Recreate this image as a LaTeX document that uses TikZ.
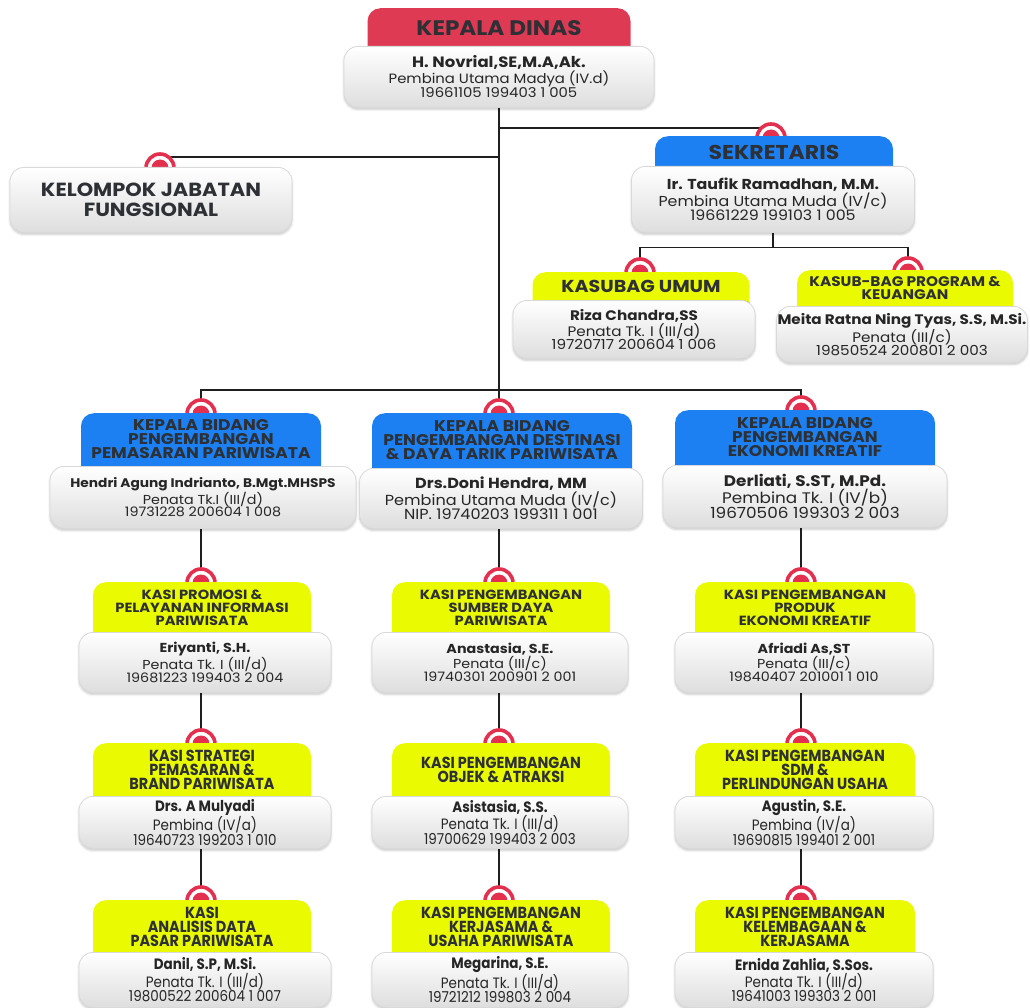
\documentclass[tikz,border=0pt]{standalone}
\usepackage{fontspec}
\setmainfont{Poppins}[FakeStretch=1.1]
\newfontfamily\condf[FakeStretch=0.9]{Poppins}
\usetikzlibrary{calc,shadows.blur}
\pgfdeclarelayer{bg}
\pgfsetlayers{bg,main}
\definecolor{hred}{RGB}{222,58,84}
\definecolor{hblue}{RGB}{28,128,242}
\definecolor{hyel}{RGB}{234,250,0}
\definecolor{htext}{RGB}{45,48,52}
\definecolor{markc}{RGB}{226,48,78}
\definecolor{btext}{RGB}{38,38,38}
\tikzset{
 conn/.style={draw=black!88, line width=1.3pt},
 ring/.style={circle, draw=markc, line width=3.6pt, fill=white, minimum size=28pt, inner sep=0pt},
 hdr/.style={rounded corners=13pt, anchor=north, inner sep=0pt},
 htxt/.style={align=center, text=htext, inner sep=0pt, font=\bfseries\fontsize{13.5}{13}\selectfont},
 bigt/.style={font=\bfseries\fontsize{21}{21}\selectfont},
 bidt/.style={font=\bfseries\fontsize{15.5}{14}\selectfont},
 kasit/.style={font=\bfseries\fontsize{13.3}{13}\selectfont},
 condt/.style={font=\condf\bfseries\fontsize{16}{14}\selectfont},
 body/.style={anchor=north, rounded corners=14pt, top color=white, bottom color=black!13, draw=black!15, line width=0.8pt, align=center, text=btext, inner sep=0pt, font=\fontsize{13}{12.5}\selectfont,
   blur shadow={shadow blur steps=5, shadow xshift=0pt, shadow yshift=-2pt, shadow opacity=22}},
 condb/.style={font=\condf\fontsize{15}{14.5}\selectfont},
}
\newcommand\mk[3]{\node[ring] (#1) at (#2,#3) {}; \fill[markc] (#1.center) circle (8.5pt);}
\newcommand\hd[8]{%
 \node[hdr,fill=#6,minimum width=#4pt,minimum height={#5pt+16pt}] (#1h) at (#2,#3) {};
 \node[htxt,#7] (#1t) at (#2,#3+#5/2) {#8};}
\newcommand\bd[7]{\node[body,#6,minimum width=#4pt,minimum height=#5pt] (#1) at (#2,#3) {#7};}
\newcommand\bt[3]{\textbf{#1}\\#2\\#3}
\begin{document}
\begin{tikzpicture}[x=1pt,y=-1pt]
\useasboundingbox (0,0) rectangle (1030,1008);
% Kepala Dinas
\hd{kd}{499}{8}{263}{40}{hred}{bigt}{KEPALA DINAS}
\bd{kd}{499}{46}{310}{61}{font=\fontsize{13.5}{12.5}\selectfont}{\textbf{\fontsize{15}{12.5}\selectfont H. Novrial,SE,M.A,Ak.}\\Pembina Utama Madya (IV.d)\\19661105 199403 1 005}
% Kelompok
\mk{kjm}{160}{168}
\bd{kj}{151}{167}{282}{65}{text=htext, font=\bfseries\fontsize{19}{20}\selectfont}{KELOMPOK JABATAN\\FUNGSIONAL}
% Sekretaris
\mk{sekm}{771}{138}
\hd{sek}{774}{136}{238}{32}{hblue}{font=\bfseries\fontsize{20}{20}\selectfont}{SEKRETARIS}
\bd{sek}{773}{166}{283}{66}{font=\fontsize{14.4}{14}\selectfont}{\bt{Ir. Taufik Ramadhan, M.M.}{Pembina Utama Muda (IV/c)}{19661229 199103 1 005}}
% Kasubag
\mk{kum}{640}{273}
\hd{ku}{641}{272}{217}{28}{hyel}{font=\bfseries\fontsize{17.3}{17}\selectfont}{KASUBAG UMUM}
\bd{ku}{634}{300}{242}{58}{font=\fontsize{13.8}{13.2}\selectfont}{\bt{Riza Chandra,SS}{Penata Tk. I (III/d)}{19720717 200604 1 006}}
\mk{kpm}{908}{272}
\hd{kp}{905}{270}{216}{37}{hyel}{font=\bfseries\fontsize{13.9}{13}\selectfont}{KASUB-BAG PROGRAM \&\\KEUANGAN}
\bd{kp}{902}{306}{251}{56}{font=\fontsize{13.8}{13}\selectfont}{\bt{Meita Ratna Ning Tyas, S.S, M.Si.}{Penata (III/c)}{19850524 200801 2 003}}
% Bidang
\mk{b1m}{201}{414}
\hd{b1}{201}{413}{240}{53}{hblue}{bidt}{KEPALA BIDANG\\PENGEMBANGAN\\PEMASARAN PARIWISATA}
\bd{b1}{203}{466}{306}{62}{}{\textbf{\fontsize{12.5}{12.5}\selectfont Hendri Agung Indrianto, B.Mgt.MHSPS}\\Penata Tk.I (III/d)\\19731228 200604 1 008}
\mk{b2m}{499}{414}
\hd{b2}{502}{413}{260}{55}{hblue}{bidt}{KEPALA BIDANG\\PENGEMBANGAN DESTINASI\\\& DAYA TARIK PARIWISATA}
\bd{b2}{501}{468}{283}{60}{font=\fontsize{14.6}{14}\selectfont}{\bt{Drs.Doni Hendra, MM}{Pembina Utama Muda (IV/c)}{NIP. 19740203 199311 1 001}}
\mk{b3m}{801}{411}
\hd{b3}{805}{410}{260}{55}{hblue}{bidt}{KEPALA BIDANG\\PENGEMBANGAN\\EKONOMI KREATIF}
\bd{b3}{805}{465}{284}{62}{font=\fontsize{15.3}{14.5}\selectfont}{\bt{Derliati, S.ST, M.Pd.}{Pembina Tk. I (IV/b)}{19670506 199303 2 003}}
% Kasi row 1
\mk{k11m}{201}{583}
\hd{k11}{202}{582}{218}{51}{hyel}{kasit}{KASI PROMOSI \&\\PELAYANAN INFORMASI\\PARIWISATA}
\bd{k11}{205}{632}{252}{60}{}{\bt{Eriyanti, S.H.}{Penata Tk. I (III/d)}{19681223 199403 2 004}}
\mk{k12m}{499}{583}
\hd{k12}{501}{582}{218}{51}{hyel}{kasit}{KASI PENGEMBANGAN\\SUMBER DAYA\\PARIWISATA}
\bd{k12}{500}{632}{256}{60}{}{\bt{Anastasia, S.E.}{Penata (III/c)}{19740301 200901 2 001}}
\mk{k13m}{801}{583}
\hd{k13}{805}{582}{220}{51}{hyel}{kasit}{KASI PENGEMBANGAN\\PRODUK\\EKONOMI KREATIF}
\bd{k13}{804}{632}{258}{60}{}{\bt{Afriadi As,ST}{Penata (III/c)}{19840407 201001 1 010}}
% Kasi row 2
\mk{k21m}{201}{744}
\hd{k21}{202}{743}{218}{54}{hyel}{condt}{KASI STRATEGI\\PEMASARAN \&\\BRAND PARIWISATA}
\bd{k21}{205}{796}{252}{52}{condb}{\bt{Drs. A Mulyadi}{Pembina (IV/a)}{19640723 199203 1 010}}
\mk{k22m}{499}{744}
\hd{k22}{501}{743}{218}{54}{hyel}{condt}{KASI PENGEMBANGAN\\OBJEK \& ATRAKSI}
\bd{k22}{500}{796}{256}{52}{condb}{\bt{Asistasia, S.S.}{Penata Tk. I (III/d)}{19700629 199403 2 003}}
\mk{k23m}{801}{744}
\hd{k23}{805}{743}{220}{54}{hyel}{condt}{KASI PENGEMBANGAN\\SDM \&\\PERLINDUNGAN USAHA}
\bd{k23}{804}{796}{258}{52}{condb}{\bt{Agustin, S.E.}{Pembina (IV/a)}{19690815 199401 2 001}}
% Kasi row 3
\mk{k31m}{201}{901}
\hd{k31}{202}{900}{218}{53}{hyel}{condt}{KASI\\ANALISIS DATA\\PASAR PARIWISATA}
\bd{k31}{205}{952}{252}{55}{condb}{\bt{Danil, S.P, M.Si.}{Penata Tk. I (III/d)}{19800522 200604 1 007}}
\mk{k32m}{499}{901}
\hd{k32}{501}{900}{218}{53}{hyel}{condt}{KASI PENGEMBANGAN\\KERJASAMA \&\\USAHA PARIWISATA}
\bd{k32}{500}{952}{256}{55}{condb}{\bt{Megarina, S.E.}{Penata Tk. I (III/d)}{19721212 199803 2 004}}
\mk{k33m}{801}{901}
\hd{k33}{805}{900}{220}{53}{hyel}{condt}{KASI PENGEMBANGAN\\KELEMBAGAAN \&\\KERJASAMA}
\bd{k33}{804}{952}{258}{55}{condb}{\bt{Ernida Zahlia, S.Sos.}{Penata Tk. I (III/d)}{19641003 199303 2 001}}
% connectors
\begin{pgfonlayer}{bg}
\coordinate (jb) at (499,390);
\coordinate (js) at (499,128);
\coordinate (jk) at (499,157);
\draw[conn] (kd.south) -- (jb);
\draw[conn] (js) -| (sekm.center);
\draw[conn] (jk) -| (kjm.center);
\draw[conn] (b1m.center) |- (jb) -| (b3m.center);
\draw[conn] (jb) -- (b2m.center);
\draw[conn] (sek.south) -- ++(0,15) coordinate (jsb);
\draw[conn] (kum.center) |- (jsb) -| (kpm.center);
\draw[conn] (b1.south -| k11m) -- (k11m.center);
\draw[conn] (b2.south -| k12m) -- (k12m.center);
\draw[conn] (b3.south -| k13m) -- (k13m.center);
\draw[conn] (k11.south -| k21m) -- (k21m.center);
\draw[conn] (k12.south -| k22m) -- (k22m.center);
\draw[conn] (k13.south -| k23m) -- (k23m.center);
\draw[conn] (k21.south -| k31m) -- (k31m.center);
\draw[conn] (k22.south -| k32m) -- (k32m.center);
\draw[conn] (k23.south -| k33m) -- (k33m.center);
\end{pgfonlayer}
\end{tikzpicture}
\end{document}
